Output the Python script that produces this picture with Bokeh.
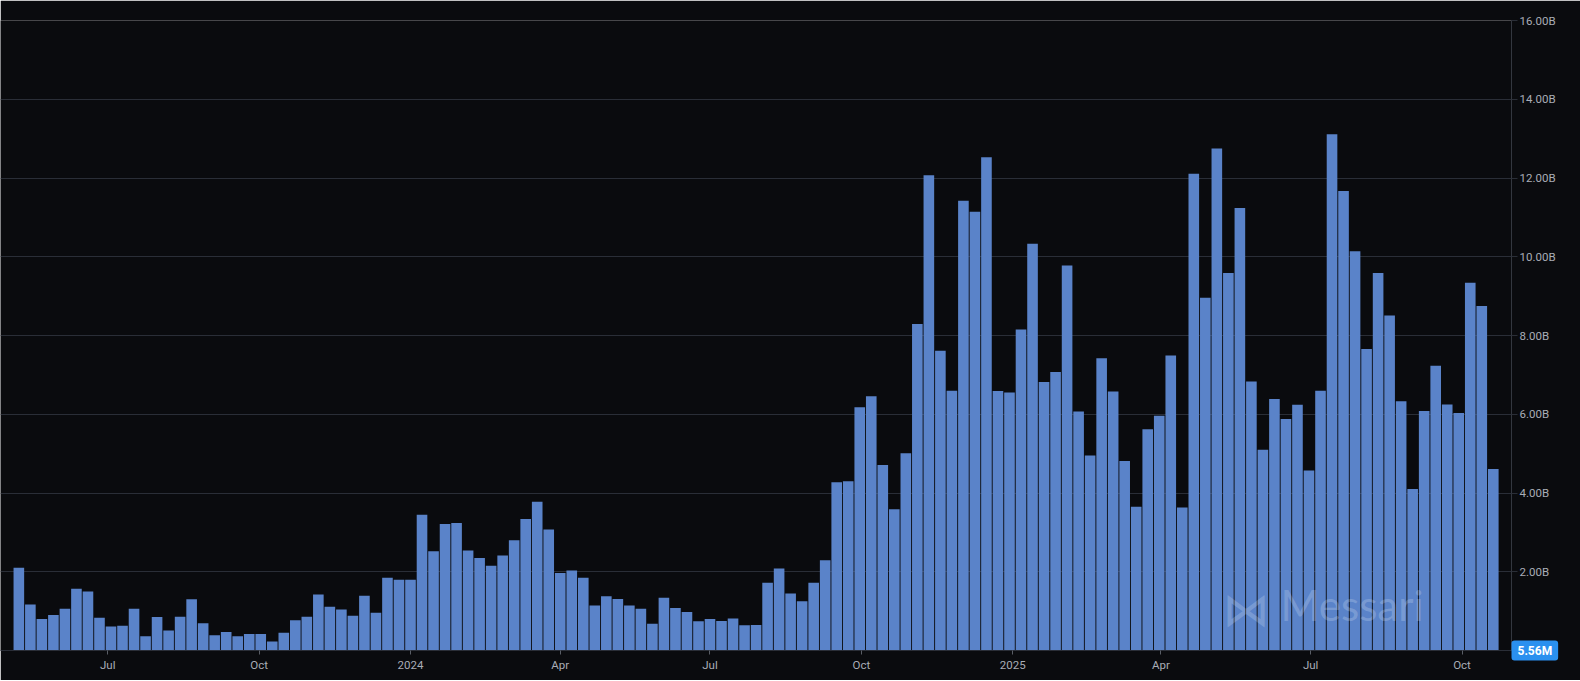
import pandas as pd
from bokeh.plotting import figure
from bokeh.models import Range1d, FixedTicker, Label, ColumnDataSource
from bokeh.embed import file_html
from bokeh.resources import INLINE

# ---------------- data ----------------
first_week = "2023-05-08"          # weekly bars (Mondays)
volume_b = [  # weekly volume, billions USD
    2.10, 1.17, 0.80, 0.90, 1.06, 1.57, 1.50, 0.83, 0.61, 0.63,
    1.06, 0.36, 0.85, 0.51, 0.86, 1.30, 0.69, 0.39, 0.47, 0.36,
    0.42, 0.42, 0.23, 0.45, 0.77, 0.86, 1.42, 1.11, 1.04, 0.88,
    1.39, 0.96, 1.85, 1.80, 1.80, 3.45, 2.52, 3.21, 3.24, 2.54,
    2.35, 2.15, 2.41, 2.80, 3.34, 3.78, 3.07, 1.97, 2.03, 1.85,
    1.14, 1.38, 1.31, 1.14, 1.06, 0.68, 1.34, 1.08, 0.98, 0.74,
    0.80, 0.75, 0.81, 0.64, 0.65, 1.72, 2.08, 1.45, 1.25, 1.72,
    2.29, 4.27, 4.30, 6.18, 6.46, 4.71, 3.59, 5.01, 8.29, 12.07,
    7.61, 6.60, 11.42, 11.14, 12.53, 6.59, 6.55, 8.15, 10.33, 6.82,
    7.07, 9.78, 6.07, 4.95, 7.42, 6.58, 4.81, 3.65, 5.62, 5.96,
    7.49, 3.63, 12.11, 8.96, 12.75, 9.59, 11.24, 6.83, 5.10, 6.39,
    5.88, 6.24, 4.57, 6.60, 13.11, 11.67, 10.14, 7.66, 9.59, 8.51,
    6.33, 4.10, 6.08, 7.23, 6.25, 6.03, 9.34, 8.75, 4.61, 0.00556,
]
x_tick_dates = ["2023-07-01", "2023-10-01", "2024-01-01", "2024-04-01", "2024-07-01",
                "2024-10-01", "2025-01-01", "2025-04-01", "2025-07-01", "2025-10-01"]
x_tick_labels = ["Jul", "Oct", "2024", "Apr", "Jul", "Oct", "2025", "Apr", "Jul", "Oct"]
y_tick_values_b = [2, 4, 6, 8, 10, 12, 14, 16]
y_tick_labels = ["2.00B", "4.00B", "6.00B", "8.00B", "10.00B", "12.00B", "14.00B", "16.00B"]
last_value_label = "5.56M"
watermark = "Messari"

# ---------------- styling ----------------
BG = "#0a0b0e"
BAR = "#5a83c9"
GRID = "#2a2e37"
AXIS_TXT = "#a9adb6"
BADGE = "#2a90ef"

W, H = 1580, 680
BORDER_R, BORDER_B = 69, 30
FRAME_W = W - BORDER_R
FRAME_H = H - BORDER_B


def ms(ts):
    return int(pd.Timestamp(ts).value // 10**6)


weeks = pd.date_range(first_week, periods=len(volume_b), freq="7D")
src = ColumnDataSource(dict(week=weeks, volume=[v * 1e9 for v in volume_b]))

x_start = ms("2023-04-26 20:24")
x_end = ms("2025-10-31 01:30")

p = figure(
    width=W, height=H,
    x_axis_type="datetime", y_axis_location="right",
    x_range=Range1d(x_start, x_end), y_range=Range1d(0, 16.0e9),
    output_backend="svg", toolbar_location=None,
    min_border_left=0, min_border_top=0, min_border_right=BORDER_R, min_border_bottom=BORDER_B,
    background_fill_color=BG, border_fill_color=BG, outline_line_color=None,
)

p.vbar(x="week", top="volume", width=6.45 * 86400000, source=src,
       fill_color=BAR, line_color=None)

# x axis
x_ticks = [ms(d) for d in x_tick_dates]
p.xaxis.ticker = FixedTicker(ticks=x_ticks)
p.xaxis.major_label_overrides = {t: l for t, l in zip(x_ticks, x_tick_labels)}
p.xaxis.axis_line_color = GRID
p.xaxis.major_tick_line_color = "#5a5e66"
p.xaxis.major_tick_out = 4
p.xaxis.major_tick_in = 0
p.xaxis.minor_tick_line_color = None
p.xaxis.major_label_standoff = 3
p.xaxis.major_label_text_color = AXIS_TXT
p.xaxis.major_label_text_font = "Roboto"
p.xaxis.major_label_text_font_size = "11.5px"

# y axis (right)
y_ticks = [int(v * 1e9) for v in y_tick_values_b]
p.yaxis.ticker = FixedTicker(ticks=y_ticks)
p.yaxis.major_label_overrides = {t: l for t, l in zip(y_ticks, y_tick_labels)}
p.yaxis.axis_line_color = "#33373f"
p.yaxis.major_tick_line_color = GRID
p.yaxis.major_tick_out = 6
p.yaxis.major_tick_in = 0
p.yaxis.minor_tick_line_color = None
p.yaxis.major_label_standoff = 2
p.yaxis.major_label_text_color = AXIS_TXT
p.yaxis.major_label_text_font = "Roboto"
p.yaxis.major_label_text_font_size = "11.5px"

p.xgrid.grid_line_color = None
p.ygrid.ticker = FixedTicker(ticks=y_ticks)
p.ygrid.grid_line_color = GRID
p.ygrid.grid_line_width = 1

# watermark
p.add_layout(Label(x=ms("2025-05-08 10:00"), y=1.05e9, text="\u22c8",
                   text_font="DejaVu Sans", text_font_size="47px",
                   text_color="white", text_alpha=0.2, text_baseline="alphabetic"))
p.add_layout(Label(x=ms("2025-06-12 16:00"), y=1.15e9, text=watermark,
                   text_font="Lato", text_font_size="42px",
                   text_color="white", text_alpha=0.2, text_baseline="alphabetic"))

# last value badge, in the top side panel (not clipped), placed in canvas coordinates
badge = Label(x=FRAME_W, y=FRAME_H, x_units="canvas", y_units="canvas",
              text=last_value_label,
              text_baseline="middle", text_align="left",
              text_font="Roboto", text_font_size="12px", text_font_style="bold",
              text_color="white", background_fill_color=BADGE,
              border_radius=3, padding=(6, 3))
p.add_layout(badge, "above")

open("out.html", "w").write(file_html(p, INLINE))
